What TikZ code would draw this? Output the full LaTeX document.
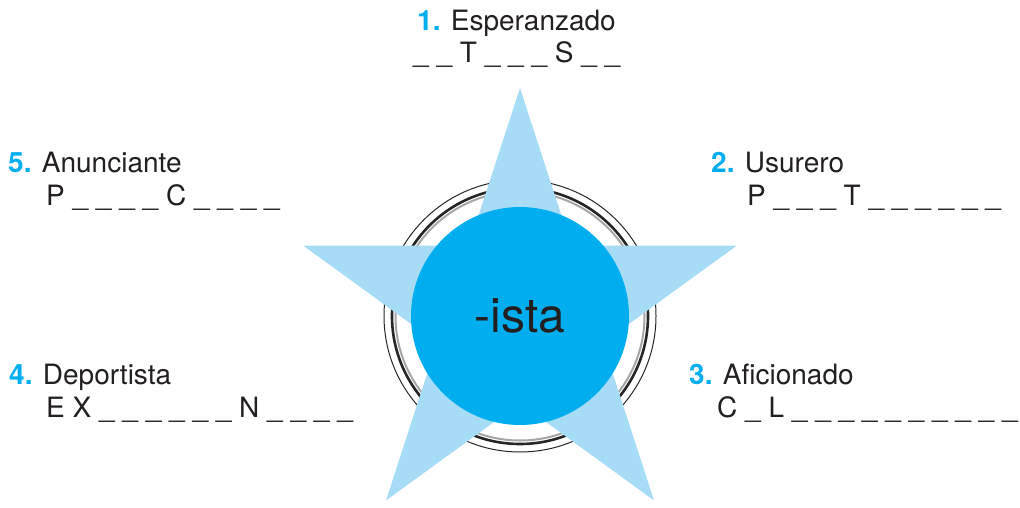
\documentclass[tikz,border=0pt]{standalone}
\usepackage{fontspec}
\setmainfont{TeX Gyre Heros}
\usetikzlibrary{shapes.geometric}

\definecolor{starblue}{RGB}{166,220,245}
\definecolor{discblue}{RGB}{0,174,239}
\definecolor{inkgray}{RGB}{35,31,32}

\newcommand{\numlbl}[1]{\textcolor{discblue}{\textbf{#1.}}}

\begin{document}
\begin{tikzpicture}[x=1pt, y=-1pt,
        word/.style={anchor=base west, inner sep=0pt, text=inkgray,
                     font=\fontsize{28}{30}\selectfont},
        ring/.style={draw=black!85, fill=none}]
    \useasboundingbox (0,0) rectangle (1020,508);

    \coordinate (c) at (520,316);

    % rings behind the star
    \draw[ring, line width=1pt] (c) circle (136pt);
    \draw[ring, line width=2.6pt] (c) circle (128pt);
    \draw[draw=black!35, line width=2pt] (c) circle (124.5pt);

    % star and centre disc
    \node[star, star points=5, star point ratio=2.618, minimum size=456pt,
          inner sep=0pt, fill=starblue] (star) at (c) {};
    \node[circle, fill=discblue, minimum size=218pt, inner sep=0pt,
          text=inkgray, font=\fontsize{48}{50}\selectfont] (disc) at (c) {-ista};

    % 1
    \node[word] (w1) at (417,31) {\numlbl{1} Esperanzado};
    \node[word] (b1) at (413,63) {\_ \_ T \_ \_ \_ S \_ \_};
    % 2
    \node[word] (w2) at (711,172) {\numlbl{2} Usurero};
    \node[word] (b2) at (747,205) {P \_ \_ \_ T \_ \_ \_ \_ \_ \_};
    % 3
    \node[word] (w3) at (689,384) {\numlbl{3} Aficionado};
    \node[word] (b3) at (717,417) {C \_ L \_ \_ \_ \_ \_ \_ \_ \_ \_ \_};
    % 4
    \node[word] (w4) at (9,384) {\numlbl{4} Deportista};
    \node[word] (b4) at (46,417) {E X \_ \_ \_ \_ \_ \_ N \_ \_ \_ \_};
    % 5
    \node[word] (w5) at (8,172) {\numlbl{5} Anunciante};
    \node[word] (b5) at (46,205) {P \_ \_ \_ \_ C \_ \_ \_ \_};
\end{tikzpicture}
\end{document}
